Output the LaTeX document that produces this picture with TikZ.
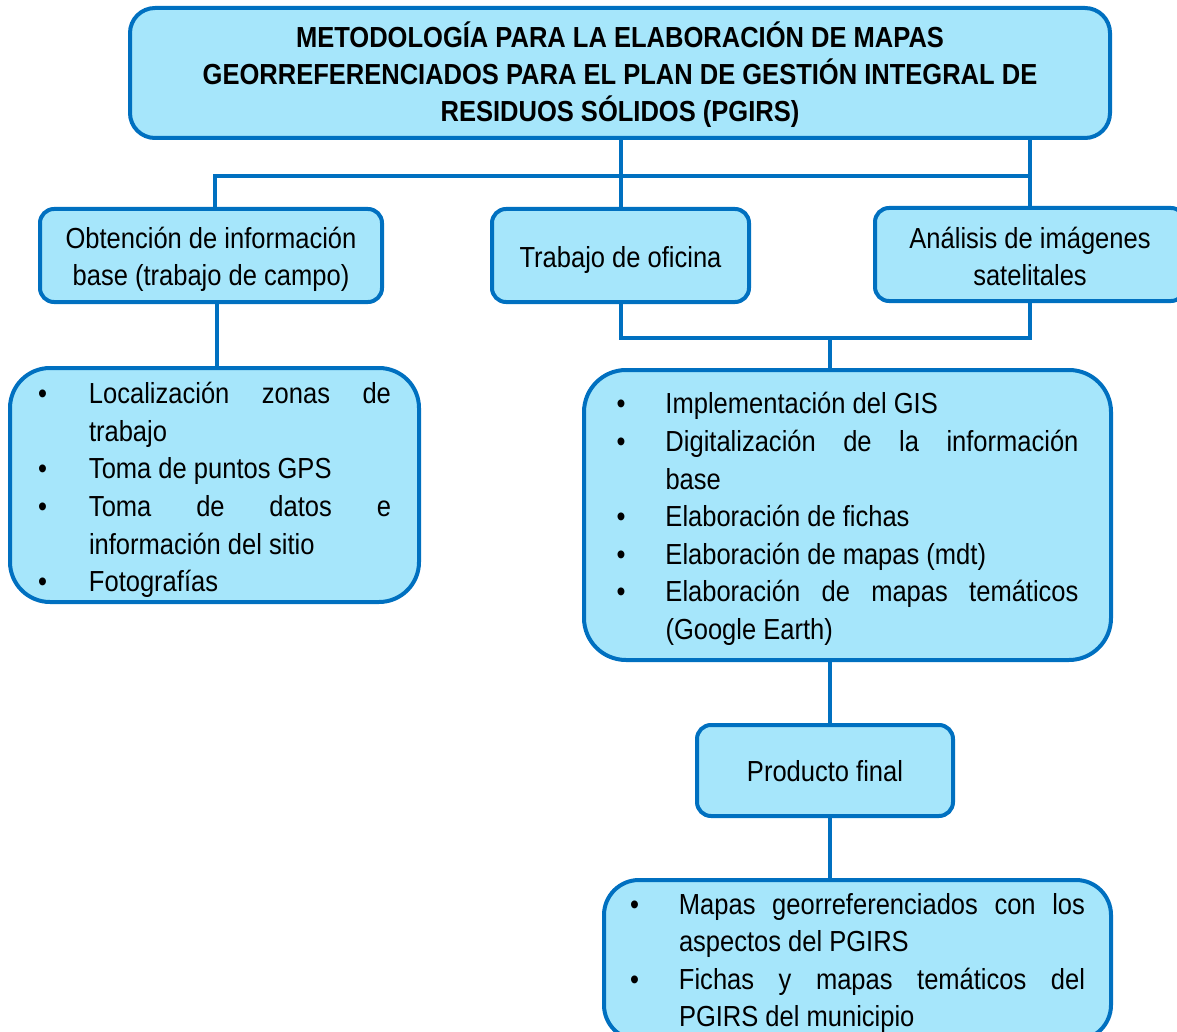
\documentclass[tikz,border=0pt]{standalone}
\usepackage{fontspec}
\setmainfont{Liberation Sans}[FakeStretch=0.88]
\definecolor{boxfill}{RGB}{166,230,251}
\definecolor{boxline}{RGB}{0,112,192}
\newlength\bind
\newcommand\bitem[1]{\noindent\hangindent=\bind\hangafter=1\makebox[\bind][l]{•}#1\par}
\newenvironment{blist}[2]{\begin{minipage}{#1}\hyphenpenalty=10000\exhyphenpenalty=10000
  \setlength\bind{#2}\fontsize{29}{37.6}\selectfont\parindent=0pt\parskip=0pt}{\end{minipage}}
\newcommand\btext[2]{\raisebox{-#1pt}[\height][\depth]{\renewcommand\arraystretch{1}\begin{tabular}{@{}c@{}}#2\end{tabular}}}
\newcommand\shiftdown[2]{\raisebox{-#1pt}[\height][\depth]{#2}}
\begin{document}
\begin{tikzpicture}[x=1pt,y=-1pt,
  box/.style={draw=boxline,fill=boxfill,line width=4pt,inner sep=0pt,
    font=\fontsize{29}{37.6}\selectfont},
  conn/.style={draw=boxline,line width=4pt},
  listbox/.style={draw=boxline,fill=boxfill,line width=4pt,inner sep=0pt}]
\useasboundingbox (0,0) rectangle (1177,1032);
\node[box,rounded corners=25pt,minimum width=980pt,minimum height=130pt,font=\fontsize{29}{37}\selectfont\bfseries] (title) at (620,73)
 {\btext{4}{METODOLOGÍA PARA LA ELABORACIÓN DE MAPAS\\GEORREFERENCIADOS PARA EL PLAN DE GESTIÓN INTEGRAL DE\\RESIDUOS SÓLIDOS (PGIRS)}};
\node[box,rounded corners=14pt,minimum width=342pt,minimum height=93pt] (obt) at (211,255.5)
 {\btext{4}{Obtención de información\\base (trabajo de campo)}};
\node[box,rounded corners=14pt,minimum width=257pt,minimum height=93pt] (trab) at (620.5,255.5)
 {\btext{4}{Trabajo de oficina}};
\node[box,rounded corners=14pt,minimum width=310pt,minimum height=93pt] (anal) at (1030,254.5)
 {\btext{5}{Análisis de imágenes\\satelitales}};
\node[listbox,rounded corners=40pt,minimum width=409pt,minimum height=234pt] (llist) at (214.5,485)
 {\shiftdown{5}{\begin{blist}{353pt}{51pt}%
  \bitem{Localización zonas de\linebreak trabajo}
  \bitem{Toma de puntos GPS}
  \bitem{Toma de datos e\linebreak información del sitio}
  \bitem{Fotografías}
  \end{blist}}};
\node[listbox,rounded corners=42pt,minimum width=527pt,minimum height=290pt] (mlist) at (847.5,515)
 {\shiftdown{4}{\begin{blist}{462pt}{49pt}%
  \bitem{Implementación del GIS}
  \bitem{Digitalización de la información\linebreak base}
  \bitem{Elaboración de fichas}
  \bitem{Elaboración de mapas (mdt)}
  \bitem{Elaboración de mapas temáticos\linebreak (Google Earth)}
  \end{blist}}};
\node[box,rounded corners=14pt,minimum width=256pt,minimum height=91pt] (prod) at (825,770.5)
 {\btext{3}{Producto final}};
\node[listbox,rounded corners=35pt,minimum width=507pt,minimum height=160pt] (blist) at (857.5,960)
 {\shiftdown{3}{\begin{blist}{455pt}{49pt}%
  \bitem{Mapas georreferenciados con los\linebreak aspectos del PGIRS}
  \bitem{Fichas y mapas temáticos del\linebreak PGIRS del municipio}
  \end{blist}}};
\coordinate (hb) at (0,176);
\coordinate (hb2) at (0,338);
\coordinate (jx) at (830,338);
\coordinate (lx) at (215,0);
\coordinate (lx2) at (217,0);
\draw[conn] (title.south -| trab.north) -- (trab.north);
\draw[conn] (title.south -| anal.north) -- (anal.north);
\draw[conn] (obt.north -| lx) |- (hb -| anal.north);
\draw[conn] (obt.south -| lx2) -- (llist.north -| lx2);
\draw[conn] (trab.south) |- (hb2 -| anal.south) -- (anal.south);
\draw[conn] (jx) -- (jx |- mlist.north);
\draw[conn] (mlist.south -| jx) -- (prod.north -| jx);
\draw[conn] (prod.south -| jx) -- (blist.north -| jx);
\end{tikzpicture}
\end{document}
